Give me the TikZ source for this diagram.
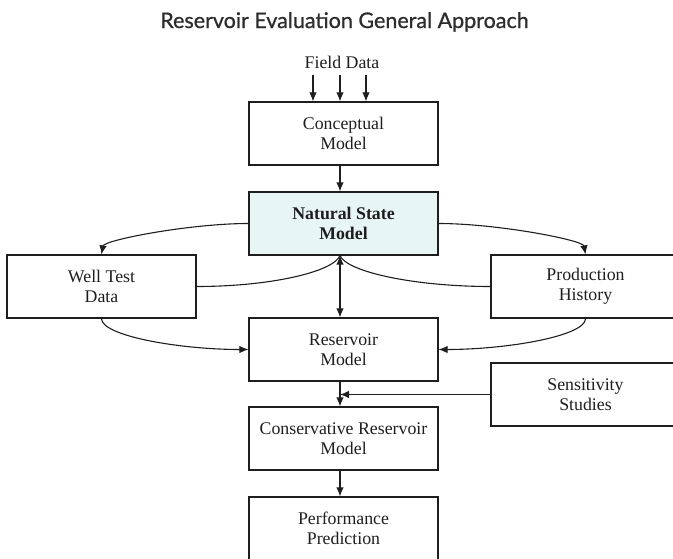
\documentclass[tikz,border=0pt]{standalone}
\usepackage{fontspec}
\setmainfont{Liberation Serif}
\newfontfamily\titlefont[FakeBold=0.8]{Lato}
\usetikzlibrary{arrows.meta}
\definecolor{nsfill}{RGB}{232,245,245}
\definecolor{ink}{RGB}{30,30,30}
\definecolor{titleink}{RGB}{45,45,45}
\begin{document}
\begin{tikzpicture}[x=1pt,y=-1pt,
  box/.style={draw=ink, line width=1.2pt, minimum width=189pt, minimum height=63pt,
    inner sep=0pt, align=center, text=ink, font=\fontsize{17.8}{20}\selectfont},
  conn/.style={draw=ink, line width=1.1pt},
  arr/.style={conn, -{Latex[length=9pt,width=7.5pt]}},
  darr/.style={conn, {Latex[length=9pt,width=7.5pt]}-{Latex[length=9pt,width=7.5pt]}}
]
\useasboundingbox (0,0) rectangle (673,558);

\node[text=titleink, font=\titlefont\fontsize{21.5}{24}\selectfont, anchor=base, inner sep=0pt] (title) at (344.5,28) {Reservoir Evaluation General Approach};
\node[text=ink, font=\fontsize{17.8}{20}\selectfont, inner sep=0pt] (fd) at (342,62) {Field Data};

\node[box] (cm) at (343.5,133.5) {Conceptual\\Model};
\node[box, fill=nsfill, font=\bfseries\fontsize{17.8}{20}\selectfont] (ns) at (343.5,223.5) {Natural State\\Model};
\node[box] (wt) at (101.5,286.5) {Well Test\\Data};
\node[box] (ph) at (585.5,286.5) {Production\\History};
\node[box] (rm) at (343.5,349.5) {Reservoir\\Model};
\node[box] (ss) at (585.5,394.5) {Sensitivity\\Studies};
\node[box] (crm) at (343.5,438.5) {Conservative Reservoir\\Model};
\node[box] (pp) at (343.5,528.5) {Performance\\Prediction};

\coordinate (axis) at (340,0);

% field data arrows
\draw[arr] ([xshift=-30.5pt]cm.north |- 0,75) -- ([xshift=-30.5pt]cm.north);
\draw[arr] ([xshift=-3.5pt]cm.north |- 0,75) -- ([xshift=-3.5pt]cm.north);
\draw[arr] ([xshift=22.5pt]cm.north |- 0,75) -- ([xshift=22.5pt]cm.north);

% main column
\draw[arr] (cm.south -| axis) -- (ns.north -| axis);
\draw[darr] (ns.south -| axis) -- (rm.north -| axis);
\draw[arr] (rm.south -| axis) -- (crm.north -| axis);
\draw[arr] (crm.south -| axis) -- (pp.north -| axis);

% natural state to side boxes
\draw[arr] (ns.west) .. controls (190,223.5) and (104,240) .. (wt.north);
\draw[arr] (ns.east) .. controls (497,223.5) and (583,240) .. (ph.north);

% side boxes back to natural state
\draw[conn] (wt.east) .. controls (270,286.5) and (333,272) .. (ns.south -| axis);
\draw[conn] (ph.west) .. controls (415,286.5) and (347,272) .. (ns.south -| axis);

% side boxes to reservoir model
\draw[arr] (wt.south) .. controls (101.5,336) and (180,349.5) .. (rm.west);
\draw[arr] (ph.south) .. controls (585.5,336) and (507,349.5) .. (rm.east);

% sensitivity
\draw[arr] (ss.west) -- (ss.west -| axis);
\end{tikzpicture}
\end{document}
